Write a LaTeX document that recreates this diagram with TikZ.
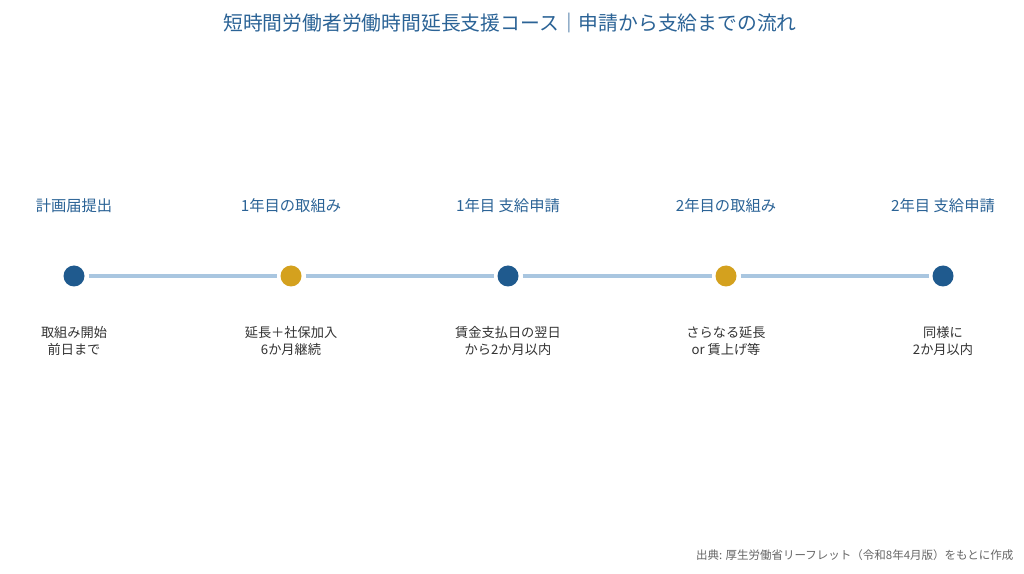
\documentclass[tikz,border=0pt]{standalone}
\usepackage{fontspec}
\setmainfont{Noto Sans CJK JP}
\definecolor{titleblue}{HTML}{2B6396}
\definecolor{dotblue}{HTML}{1F5A8E}
\definecolor{dotgold}{HTML}{D4A11E}
\definecolor{linecol}{HTML}{A9C6E0}
\definecolor{bodytext}{HTML}{333333}
\definecolor{foot}{HTML}{666666}
\tikzset{
  x=1pt,y=1pt,
  dotnode/.style={circle,inner sep=0pt,minimum size=21pt,outer sep=4pt,fill=#1},
  toplabel/.style={font=\fontsize{15.3}{18}\selectfont,text=titleblue,anchor=center},
  botlabel/.style={font=\fontsize{13.2}{17}\selectfont,text=bodytext,align=center,anchor=center},
  conn/.style={draw=linecol,line width=4.5pt}
}
\begin{document}
\begin{tikzpicture}
\useasboundingbox[fill=white] (0,0) rectangle (1024,573);
\node[font=\fontsize{19.8}{23}\selectfont,text=titleblue] (title) at (510,550) {短時間労働者労働時間延長支援コース｜申請から支給までの流れ};

\node[dotnode=dotblue] (d1) at (74,297) {};
\node[dotnode=dotgold] (d2) at (291,297) {};
\node[dotnode=dotblue] (d3) at (508,297) {};
\node[dotnode=dotgold] (d4) at (726,297) {};
\node[dotnode=dotblue] (d5) at (943,297) {};

\draw[conn] (d1) -- (d2);
\draw[conn] (d2) -- (d3);
\draw[conn] (d3) -- (d4);
\draw[conn] (d4) -- (d5);

\node[toplabel] (t1) at (74,367) {計画届提出};
\node[toplabel] (t2) at (291,367) {1年目の取組み};
\node[toplabel] (t3) at (508,367) {1年目 支給申請};
\node[toplabel] (t4) at (726,367) {2年目の取組み};
\node[toplabel] (t5) at (943,367) {2年目 支給申請};

\node[botlabel] (b1) at (74,232) {取組み開始\\前日まで};
\node[botlabel] (b2) at (291,232) {延長＋社保加入\\6か月継続};
\node[botlabel] (b3) at (508,232) {賃金支払日の翌日\\から2か月以内};
\node[botlabel] (b4) at (726,232) {さらなる延長\\or 賃上げ等};
\node[botlabel] (b5) at (943,232) {同様に\\2か月以内};

\node[font=\fontsize{11.5}{13}\selectfont,text=foot,anchor=east] (src) at (1017,18) {出典: 厚生労働省リーフレット（令和8年4月版）をもとに作成};
\end{tikzpicture}
\end{document}
